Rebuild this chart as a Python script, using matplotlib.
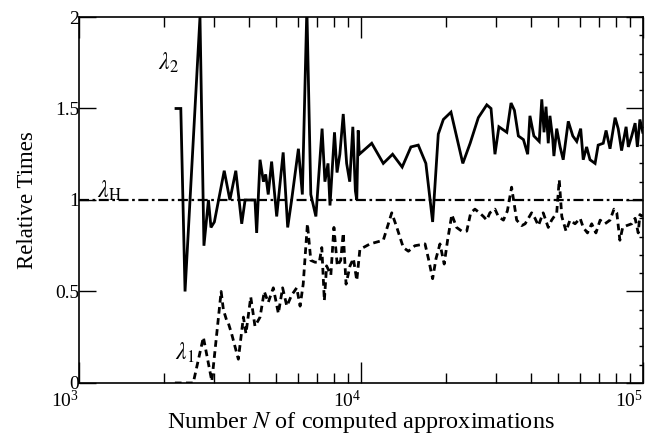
import matplotlib
matplotlib.use("Agg")
import matplotlib.pyplot as plt
import numpy as np
from matplotlib.ticker import FixedLocator, LogFormatterMathtext, LogLocator, MultipleLocator

plt.rcParams["font.family"] = ["Liberation Serif", "DejaVu Serif"]
plt.rcParams["mathtext.fontset"] = "stix"

# lambda_2: log10(N) and relative time
log_n2 = [3.344, 3.361, 3.376, 3.429, 3.443, 3.459, 3.468, 3.480, 3.515, 3.535,
          3.556, 3.577, 3.589, 3.624, 3.630, 3.642, 3.654, 3.662, 3.671, 3.683,
          3.701, 3.724, 3.740, 3.754, 3.778, 3.792, 3.808, 3.822, 3.840, 3.862,
          3.872, 3.883, 3.890, 3.906, 3.915, 3.925, 3.937, 3.949, 3.960, 3.971,
          3.980, 3.985, 3.990, 3.994, 4.038, 4.079, 4.112, 4.146, 4.177, 4.203,
          4.230, 4.254, 4.274, 4.292, 4.319, 4.361, 4.387, 4.416, 4.446, 4.461,
          4.475, 4.489, 4.517, 4.532, 4.544, 4.558, 4.576, 4.591, 4.599, 4.613,
          4.632, 4.641, 4.649, 4.656, 4.664, 4.670, 4.680, 4.684, 4.694, 4.706,
          4.717, 4.735, 4.751, 4.765, 4.779, 4.788, 4.800, 4.812, 4.830, 4.841,
          4.859, 4.869, 4.883, 4.901, 4.912, 4.924, 4.940, 4.948, 4.960, 4.972,
          4.980, 4.989, 4.999]
lam2 = [1.50, 1.50, 0.50, 2.00, 0.75, 1.00, 0.85, 0.88, 1.16, 1.00,
        1.16, 0.87, 1.00, 1.00, 0.82, 1.22, 1.10, 1.14, 1.03, 1.21,
        0.91, 1.26, 0.85, 1.00, 1.28, 1.03, 2.05, 1.03, 0.91, 1.39,
        1.10, 1.20, 0.97, 1.37, 1.15, 1.25, 1.47, 1.20, 1.10, 1.40,
        1.05, 1.00, 1.38, 1.25, 1.31, 1.20, 1.25, 1.18, 1.29, 1.30,
        1.20, 0.88, 1.36, 1.44, 1.48, 1.20, 1.31, 1.45, 1.52, 1.50,
        1.25, 1.40, 1.37, 1.53, 1.49, 1.35, 1.33, 1.25, 1.46, 1.35,
        1.32, 1.55, 1.37, 1.51, 1.31, 1.46, 1.33, 1.24, 1.39, 1.29,
        1.22, 1.43, 1.35, 1.32, 1.39, 1.22, 1.29, 1.22, 1.20, 1.30,
        1.31, 1.38, 1.28, 1.45, 1.39, 1.27, 1.40, 1.29, 1.35, 1.42,
        1.29, 1.44, 1.37]

# lambda_1: log10(N) and relative time
log_n1 = [3.340, 3.405, 3.441, 3.471, 3.504, 3.512, 3.524, 3.529, 3.541, 3.565,
          3.583, 3.592, 3.609, 3.624, 3.642, 3.657, 3.671, 3.689, 3.707, 3.722,
          3.737, 3.754, 3.772, 3.784, 3.795, 3.810, 3.822, 3.837, 3.852, 3.861,
          3.870, 3.878, 3.893, 3.904, 3.916, 3.928, 3.937, 3.947, 3.961, 3.973,
          3.985, 3.996, 4.008, 4.032, 4.079, 4.109, 4.127, 4.150, 4.168, 4.191,
          4.227, 4.239, 4.254, 4.266, 4.280, 4.295, 4.307, 4.322, 4.339, 4.357,
          4.375, 4.389, 4.404, 4.420, 4.434, 4.446, 4.457, 4.475, 4.487, 4.505,
          4.519, 4.534, 4.552, 4.570, 4.582, 4.605, 4.617, 4.629, 4.646, 4.664,
          4.676, 4.694, 4.703, 4.712, 4.727, 4.741, 4.759, 4.777, 4.788, 4.803,
          4.818, 4.833, 4.848, 4.865, 4.883, 4.897, 4.907, 4.918, 4.928, 4.942,
          4.960, 4.972, 4.983, 4.989, 4.999]
lam1 = [0.00, 0.00, 0.25, 0.01, 0.50, 0.40, 0.34, 0.33, 0.27, 0.13,
        0.36, 0.27, 0.47, 0.31, 0.36, 0.50, 0.44, 0.52, 0.38, 0.52,
        0.42, 0.48, 0.52, 0.42, 0.54, 0.87, 0.67, 0.66, 0.66, 0.74,
        0.45, 0.64, 0.59, 0.85, 0.64, 0.67, 0.82, 0.54, 0.64, 0.68,
        0.56, 0.73, 0.74, 0.76, 0.78, 0.93, 0.85, 0.74, 0.72, 0.75,
        0.76, 0.68, 0.57, 0.68, 0.76, 0.65, 0.78, 0.92, 0.85, 0.83,
        0.83, 0.93, 0.95, 0.93, 0.91, 0.89, 0.93, 0.95, 0.91, 0.89,
        0.94, 1.07, 0.89, 0.86, 0.87, 0.93, 0.90, 0.86, 0.93, 0.85,
        0.89, 0.93, 1.11, 0.91, 0.83, 0.89, 0.87, 0.90, 0.85, 0.82,
        0.87, 0.82, 0.89, 0.87, 0.89, 0.95, 0.93, 0.78, 0.85, 0.86,
        0.87, 0.90, 0.82, 0.92, 0.91]

lam_h = 1.0
y_ticks = [0, 0.5, 1, 1.5, 2]
y_tick_labels = ["0", "0.5", "1", "1.5", "2"]

n2 = 10 ** np.array(log_n2)
n1 = 10 ** np.array(log_n1)

fig = plt.figure(figsize=(6.54, 4.36), dpi=100)
ax = fig.add_axes([0.1208, 0.1216, 0.8624, 0.8394])

ax.axhline(lam_h, color="black", lw=1.6, dashes=(4.5, 1.6, 1.2, 1.6))
ax.plot(n2, lam2, color="black", lw=2.0, solid_joinstyle="miter")
ax.plot(n1, lam1, color="black", lw=2.0, dashes=(2.4, 1.6))

ax.set_xscale("log")
ax.set_xlim(1e3, 1e5)
ax.set_ylim(0, 2)

ax.xaxis.set_major_locator(LogLocator(base=10))
ax.xaxis.set_major_formatter(LogFormatterMathtext())
ax.xaxis.set_minor_locator(LogLocator(base=10, subs=np.arange(2, 10)))
ax.yaxis.set_major_locator(FixedLocator(y_ticks))
ax.set_yticklabels(y_tick_labels)
ax.yaxis.set_minor_locator(MultipleLocator(0.1))

ax.tick_params(axis="x", which="major", direction="in", top=True, length=15,
               width=1, labelsize=14, pad=5)
ax.tick_params(axis="x", which="minor", direction="in", top=True, length=7, width=1)
ax.tick_params(axis="y", which="major", direction="in", right=True, length=12,
               width=1, labelsize=14, pad=0)
ax.tick_params(axis="y", which="minor", direction="in", left=False, right=True,
               length=3, width=1)
for lbl in ax.get_xticklabels():
    lbl.set_horizontalalignment("right")
for s in ax.spines.values():
    s.set_linewidth(1.2)

ax.set_xlabel("Number $N$ of computed approximations", fontsize=17.5, labelpad=-1)
ax.set_ylabel("Relative Times", fontsize=16.5, labelpad=12)

ax.text(2070, 1.75, r"$\lambda_2$", fontsize=17, ha="center", va="center")
ax.text(1277, 1.05, r"$\lambda_{\rm H}$", fontsize=17, ha="center", va="center")
ax.text(2380, 0.165, r"$\lambda_1$", fontsize=17, ha="center", va="center")

fig.savefig("out.png", dpi=100)
